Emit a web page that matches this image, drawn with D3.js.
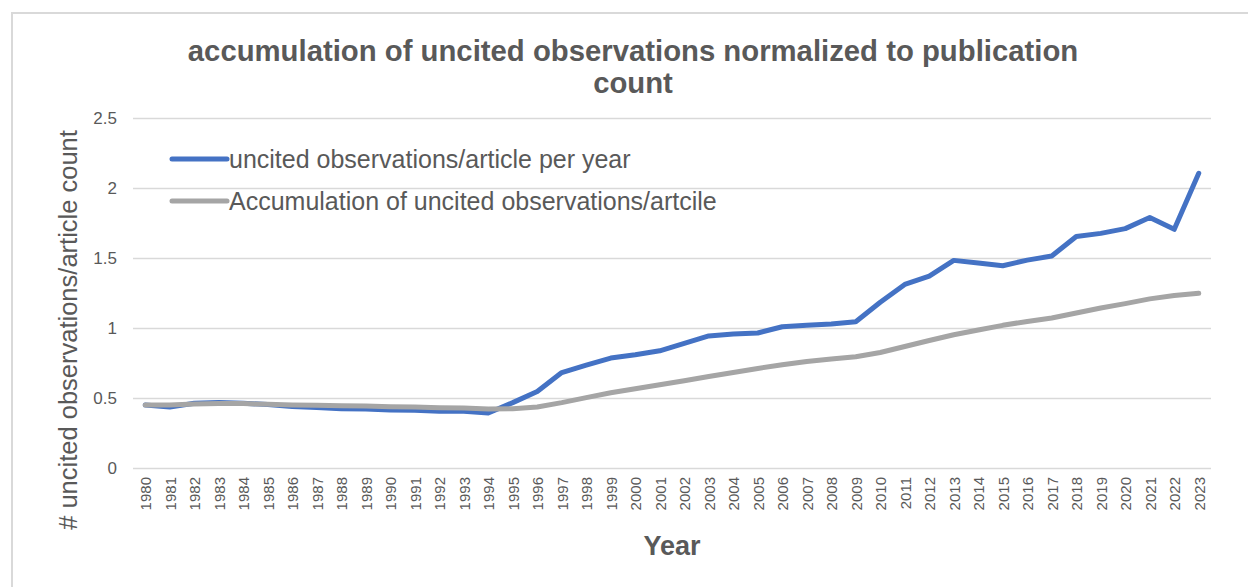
<!DOCTYPE html>
<html lang="en">

<head>
    <meta charset="utf-8">
    <title>accumulation of uncited observations</title>
    <script type="text/javascript" src="https://cdn.jsdelivr.net/npm/d3@7"></script>
    <style type="text/css">
    body {
        margin: 0;
        background: white;
    }

    text {
        font-family: "Liberation Sans", Arial, sans-serif;
        fill: #595959;
    }
    </style>
</head>

<body>
    <script type="text/javascript">
    //Width and height
    var w = 1248;
    var h = 587;

    //data
    var years = d3.range(1980, 2024).map(String);

    var perYear = [0.45, 0.435, 0.463, 0.468, 0.463, 0.453, 0.44, 0.433, 0.424, 0.421,
        0.414, 0.412, 0.405, 0.405, 0.393, 0.467, 0.546, 0.682, 0.735, 0.785,
        0.809, 0.837, 0.89, 0.943, 0.957, 0.964, 1.009, 1.019, 1.029, 1.045,
        1.184, 1.311, 1.37, 1.483, 1.464, 1.445, 1.485, 1.514, 1.653, 1.676,
        1.71, 1.789, 1.705, 2.105];

    var accumulated = [0.45, 0.45, 0.457, 0.46, 0.46, 0.455, 0.45, 0.448, 0.445, 0.443,
        0.438, 0.436, 0.431, 0.429, 0.422, 0.424, 0.436, 0.467, 0.503, 0.537,
        0.566, 0.594, 0.623, 0.653, 0.682, 0.711, 0.737, 0.761, 0.778, 0.795,
        0.825, 0.868, 0.911, 0.952, 0.986, 1.019, 1.047, 1.071, 1.107, 1.143,
        1.174, 1.208, 1.232, 1.248];

    var yTicks = [0, 0.5, 1, 1.5, 2, 2.5];

    var seriesNames = ['uncited observations/article per year', 'Accumulation of uncited observations/artcile'];
    var seriesColors = ['#4472C4', '#A5A5A5'];

    var series = [perYear, accumulated];

    //plot area (window.top is taken, so plotTop etc.)
    var plotLeft = 133, plotRight = 1211, plotTop = 118, plotBottom = 468;

    var x = d3.scalePoint()
        .domain(years)
        .range([plotLeft, plotRight])
        .padding(0.5);

    var y = d3.scaleLinear()
        .domain([0, 2.5])
        .range([plotBottom, plotTop]);

    //create SVG
    var svg = d3.select('body')
        .append('svg')
        .attr('width', w)
        .attr('height', h);

    //chart frame
    svg.append('rect')
        .attr('x', 12)
        .attr('y', 13)
        .attr('width', w + 20)
        .attr('height', h + 20)
        .attr('fill', 'none')
        .attr('stroke', '#d9d9d9')
        .attr('stroke-width', 2);

    //title
    var title = svg.append('text')
        .attr('text-anchor', 'middle')
        .attr('font-size', 29.3)
        .attr('font-weight', 'bold');

    title.append('tspan')
        .attr('x', 633)
        .attr('y', 61)
        .text('accumulation of uncited observations normalized to publication');

    title.append('tspan')
        .attr('x', 633)
        .attr('y', 93)
        .text('count');

    //gridlines and y axis
    var yAxis = d3.axisLeft(y)
        .tickValues(yTicks)
        .tickSize(-(plotRight - plotLeft))
        .tickPadding(16)
        .tickFormat(d3.format('~g'));

    var gy = svg.append('g')
        .attr('transform', 'translate(' + plotLeft + ',0)')
        .call(yAxis);

    gy.select('.domain').remove();
    gy.selectAll('line')
        .attr('stroke', '#d9d9d9')
        .attr('stroke-width', 1.5);
    gy.selectAll('text')
        .attr('font-size', 17)
        .attr('fill', '#595959')
        .attr('font-family', '"Liberation Sans", Arial, sans-serif');

    //x axis, year labels rotated
    var xAxis = d3.axisBottom(x)
        .tickSize(0)
        .tickPadding(0);

    var gx = svg.append('g')
        .attr('transform', 'translate(0,' + plotBottom + ')')
        .call(xAxis);

    gx.select('.domain').remove();
    gx.selectAll('text')
        .attr('font-size', 15)
        .attr('fill', '#595959')
        .attr('font-family', '"Liberation Sans", Arial, sans-serif')
        .attr('text-anchor', 'end')
        .attr('dy', '0.35em')
        .attr('transform', 'translate(0,9) rotate(-90)')
        .attr('y', 0)
        .attr('x', 0);

    //axis titles
    svg.append('text')
        .attr('text-anchor', 'middle')
        .attr('font-size', 27)
        .attr('font-weight', 'bold')
        .attr('x', 672)
        .attr('y', 555)
        .text('Year');

    svg.append('text')
        .attr('text-anchor', 'middle')
        .attr('font-size', 25.5)
        .attr('transform', 'translate(77,330) rotate(-90)')
        .text('# uncited observations/article count');

    //lines
    var line = d3.line()
        .x(function(d, i) { return x(years[i]); })
        .y(function(d) { return y(d); });

    svg.selectAll('path.series')
        .data(series)
        .enter()
        .append('path')
        .attr('class', 'series')
        .attr('d', line)
        .attr('fill', 'none')
        .attr('stroke', function(d, i) { return seriesColors[i]; })
        .attr('stroke-width', 5)
        .attr('stroke-linejoin', 'round')
        .attr('stroke-linecap', 'round');

    //legend
    var legend = svg.selectAll('g.legend')
        .data(seriesNames)
        .enter()
        .append('g')
        .attr('class', 'legend')
        .attr('transform', function(d, i) { return 'translate(172,' + (159 + i * 42) + ')'; });

    legend.append('line')
        .attr('x1', 0)
        .attr('x2', 55)
        .attr('stroke', function(d, i) { return seriesColors[i]; })
        .attr('stroke-width', 5)
        .attr('stroke-linecap', 'round');

    legend.append('text')
        .attr('x', 57)
        .attr('dy', '0.35em')
        .attr('font-size', 25)
        .text(function(d) { return d; });
    </script>
</body>

</html>
